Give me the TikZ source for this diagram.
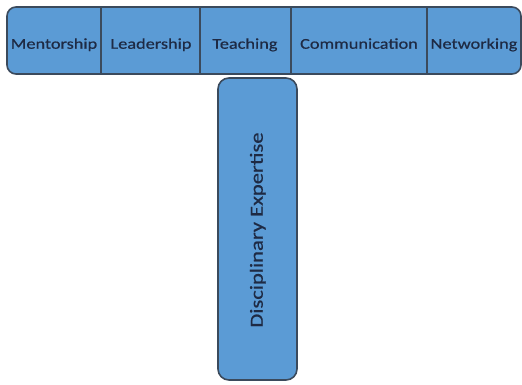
\documentclass[tikz,border=0pt]{standalone}
\usepackage{fontspec}
\setmainfont{Carlito}
\newfontfamily\cellfont[FakeStretch=1.22,FakeBold=0.6]{Carlito}
\definecolor{barblue}{HTML}{5B9BD5}
\definecolor{barline}{HTML}{3B4A5C}
\definecolor{labelink}{HTML}{1E2A44}
\tikzset{
  cell/.style={text=labelink, font=\cellfont\fontsize{15}{17}\selectfont,
    inner sep=0pt, text height=1.6ex, text depth=.45ex},
  bar/.style={fill=barblue, draw=barline, line width=1.6pt},
}
\begin{document}
\begin{tikzpicture}[x=1pt,y=1pt]
  \useasboundingbox (0,0) rectangle (522,-385);

  % top row
  \draw[bar, rounded corners=9pt] (7,-7) rectangle (521,-74);
  \draw[barline, line width=1.8pt] (101,-7) -- (101,-74);
  \draw[barline, line width=1.8pt] (200,-7) -- (200,-74);
  \draw[barline, line width=1.8pt] (291,-7) -- (291,-74);
  \draw[barline, line width=1.8pt] (427,-7) -- (427,-74);

  \node[cell] (ment)  at ( 54,-46) {Mentorship};
  \node[cell] (lead)  at (151,-46) {Leadership};
  \node[cell] (teach) at (245,-46) {Teaching};
  \node[cell] (comm)  at (359,-46) {Communication};
  \node[cell] (net)   at (474,-46) {Networking};

  % stem
  \draw[bar, rounded corners=11pt] (218,-78) rectangle (297,-380);
  \node[cell, rotate=90, font=\cellfont\fontsize{18.5}{20}\selectfont] (disc) at (260,-230) {Disciplinary Expertise};

\end{tikzpicture}
\end{document}
